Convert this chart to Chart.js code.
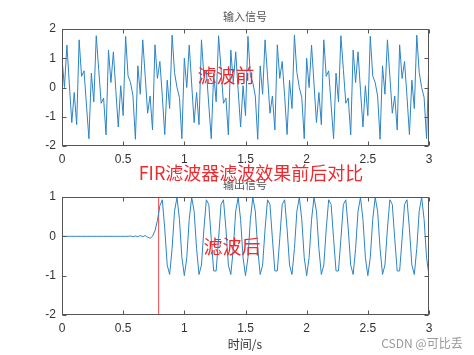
<!DOCTYPE html>
<html>
<head>
<meta charset="utf-8">
<script src="https://cdn.jsdelivr.net/npm/chart.js@4.4.1/dist/chart.umd.min.js"></script>
<style>
  body { margin: 0; background: #fff; }
  #wrap { position: relative; width: 474px; height: 355px; overflow: hidden; background: #fff; }
  canvas { position: absolute; left: 0; }
  .t { position: absolute; width: 300px; margin-left: -150px; text-align: center; white-space: nowrap; line-height: 1; font-family: "Noto Sans CJK SC", "Noto Sans", sans-serif; }
  .red { color: #ee2a2f; }
</style>
</head>
<body>
<div id="wrap">
  <canvas id="cIn" width="474" height="165" style="top:0"></canvas>
  <canvas id="cOut" width="474" height="190" style="top:165px"></canvas>
  <div class="t" style="left:245px; top:11px; font-size:11px; color:#555;">输入信号</div>
  <div class="t" style="left:245px; top:179px; font-size:11px; color:#555;">输出信号</div>
  <div class="t" style="left:245px; top:338px; font-size:12px; color:#333;">时间/s</div>
  <div class="t red" style="left:226px; top:65px; font-size:19px;">滤波前</div>
  <div class="t red" style="left:232px; top:236px; font-size:19px;">滤波后</div>
  <div class="t red" style="left:251px; top:163px; font-size:18px;">FIR滤波器滤波效果前后对比</div>
  <div class="t" style="left:422px; top:337px; font-size:12px; color:#9a9a9a;">CSDN @可比丢</div>
</div>
<script>
// sample rate of the plotted signals (one point every 0.02 s, 0..3 s)
const fs = 50;

// input signal
const entrada = [
  1.00, 0.00, 1.45, 0.12, -1.20, -0.17, -1.27, 1.63, 0.38, 0.57,
  -0.60, -1.75, 0.49, -0.49, 1.77, 0.62, -0.54, -0.36, -1.62, 1.28,
  0.17, 1.22, -0.10, -1.35, 0.06, -0.96, 1.75, 0.40, 0.17, -0.29,
  -1.77, 0.74, -0.23, 1.63, 0.40, -0.88, -0.29, -1.45, 1.46, 0.31,
  0.89, -0.30, -1.61, 0.25, -0.72, 1.79, 0.51, 0.00, -0.34, -1.75,
  1.00, 0.00, 1.45, 0.12, -1.20, -0.17, -1.27, 1.63, 0.38, 0.57,
  -0.60, -1.75, 0.49, -0.49, 1.77, 0.62, -0.54, -0.36, -1.62, 1.28,
  0.17, 1.22, -0.10, -1.35, 0.06, -0.96, 1.75, 0.40, 0.17, -0.29,
  -1.77, 0.74, -0.23, 1.63, 0.40, -0.88, -0.29, -1.45, 1.46, 0.31,
  0.89, -0.30, -1.61, 0.25, -0.72, 1.79, 0.51, 0.00, -0.34, -1.75,
  1.00, 0.00, 1.45, 0.12, -1.20, -0.17, -1.27, 1.63, 0.38, 0.57,
  -0.60, -1.75, 0.49, -0.49, 1.77, 0.62, -0.54, -0.36, -1.62, 1.28,
  0.17, 1.22, -0.10, -1.35, 0.06, -0.96, 1.75, 0.40, 0.17, -0.29,
  -1.77, 0.74, -0.23, 1.63, 0.40, -0.88, -0.29, -1.45, 1.46, 0.31,
  0.89, -0.30, -1.61, 0.25, -0.72, 1.79, 0.51, 0.00, -0.34, -1.75,
  1.00
];

// filtered output
const salida = [
  0.00, 0.00, 0.00, 0.00, 0.00, 0.00, 0.00, 0.00, 0.00, 0.00,
  0.00, 0.00, 0.00, 0.00, 0.00, 0.00, 0.00, 0.00, 0.00, 0.00,
  0.00, 0.00, 0.00, 0.00, 0.00, 0.00, 0.00, 0.00, 0.01, -0.01,
  0.01, -0.01, 0.02, -0.01, 0.02, -0.02, -0.05, 0.00, 0.14, 0.40,
  0.78, 0.93, 0.19, -0.73, -0.97, -0.31, 0.64, 0.99, 0.43, -0.54,
  -1.00, -0.54, 0.43, 0.99, 0.64, -0.31, -0.97, -0.73, 0.19, 0.93,
  0.81, -0.06, -0.88, -0.88, -0.06, 0.81, 0.93, 0.19, -0.73, -0.97,
  -0.31, 0.64, 0.99, 0.43, -0.54, -1.00, -0.54, 0.43, 0.99, 0.64,
  -0.31, -0.97, -0.73, 0.19, 0.93, 0.81, -0.06, -0.88, -0.88, -0.06,
  0.81, 0.93, 0.19, -0.73, -0.97, -0.31, 0.64, 0.99, 0.43, -0.54,
  -1.00, -0.54, 0.43, 0.99, 0.64, -0.31, -0.97, -0.73, 0.19, 0.93,
  0.81, -0.06, -0.88, -0.88, -0.06, 0.81, 0.93, 0.19, -0.73, -0.97,
  -0.31, 0.64, 0.99, 0.43, -0.54, -1.00, -0.54, 0.43, 0.99, 0.64,
  -0.31, -0.97, -0.73, 0.19, 0.93, 0.81, -0.06, -0.88, -0.88, -0.06,
  0.81, 0.93, 0.19, -0.73, -0.97, -0.31, 0.64, 0.99, 0.43, -0.54,
  -1.00
];

// red marker line (delay of the filter)
const marcaX = 0.79;

// tick labels
const ticksX = [0, 0.5, 1, 1.5, 2, 2.5, 3];
const ticksYIn = [-2, -1, 0, 1, 2];
const ticksYOut = [-2, -1, 0, 1];

const AZUL = '#2b84c6';
const EJE = '#555';
const FUENTE = { family: 'Liberation Sans, Arial, sans-serif', size: 12 };

function aPuntos(arr) {
  return arr.map((v, i) => ({ x: i / fs, y: v }));
}

// box + inward ticks like matlab
const cajaMatlab = {
  id: 'cajaMatlab',
  afterDatasetsDraw(chart) {
    const { ctx, chartArea: a, scales } = chart;
    const L = Math.round(a.left) + 0.5, R = Math.round(a.right) - 0.5;
    const T = Math.round(a.top) + 0.5, B = Math.round(a.bottom) - 0.5;
    ctx.save();
    ctx.strokeStyle = EJE; ctx.lineWidth = 1;
    ctx.strokeRect(L, T, R - L, B - T);
    ctx.beginPath();
    scales.x.ticks.forEach(t => {
      const px = Math.round(scales.x.getPixelForValue(t.value)) + 0.5;
      ctx.moveTo(px, B); ctx.lineTo(px, B - 4);
      ctx.moveTo(px, T); ctx.lineTo(px, T + 4);
    });
    scales.y.ticks.forEach(t => {
      const py = Math.round(scales.y.getPixelForValue(t.value)) + 0.5;
      ctx.moveTo(L, py); ctx.lineTo(L + 4, py);
      ctx.moveTo(R, py); ctx.lineTo(R - 4, py);
    });
    ctx.stroke();
    ctx.restore();
  }
};

function opciones(ticksY, minY, maxY, padTop, altoX) {
  return {
    responsive: false,
    animation: false,
    layout: { padding: { top: padTop, right: 45, left: 0, bottom: 0 } },
    plugins: { legend: { display: false }, tooltip: { enabled: false } },
    elements: { point: { radius: 0 }, line: { tension: 0 } },
    scales: {
      x: {
        type: 'linear', min: 0, max: 3,
        afterBuildTicks: s => { s.ticks = ticksX.map(v => ({ value: v })); },
        afterFit: s => { s.height = altoX; },
        grid: { display: false, drawTicks: false },
        border: { display: false },
        ticks: { color: '#333', font: FUENTE, padding: 6, maxRotation: 0, callback: v => String(v) }
      },
      y: {
        type: 'linear', min: minY, max: maxY,
        afterBuildTicks: s => { s.ticks = ticksY.map(v => ({ value: v })); },
        afterFit: s => { s.width = 62; },
        grid: { display: false, drawTicks: false },
        border: { display: false },
        ticks: { color: '#333', font: FUENTE, padding: 6, callback: v => String(v) }
      }
    }
  };
}

new Chart(document.getElementById('cIn'), {
  type: 'line',
  data: { datasets: [{ data: aPuntos(entrada), borderColor: AZUL, borderWidth: 1 }] },
  options: opciones(ticksYIn, -2, 2, 29, 19),
  plugins: [cajaMatlab]
});

new Chart(document.getElementById('cOut'), {
  type: 'line',
  data: {
    datasets: [
      { data: aPuntos(salida), borderColor: AZUL, borderWidth: 1 },
      { data: [{ x: marcaX, y: -2 }, { x: marcaX, y: 1 }], borderColor: '#e8474a', borderWidth: 1 }
    ]
  },
  options: opciones(ticksYOut, -2, 1, 32, 40),
  plugins: [cajaMatlab]
});
</script>
</body>
</html>
